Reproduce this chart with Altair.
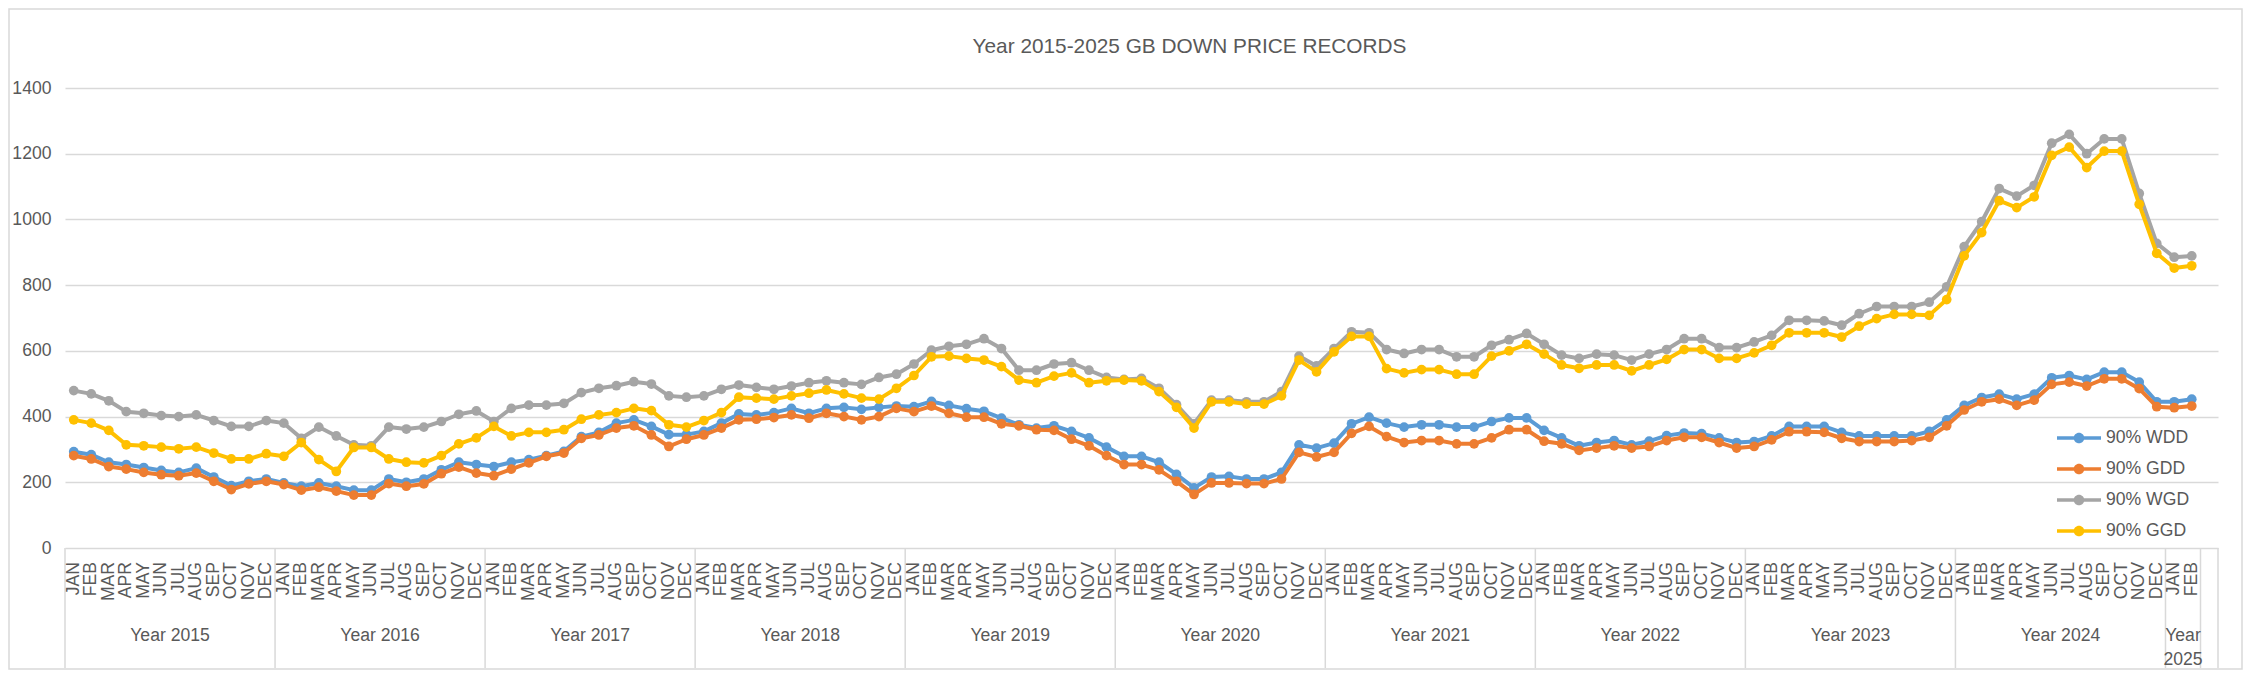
import altair as alt
import pandas as pd

TITLE = "Year 2015-2025 GB DOWN PRICE RECORDS"
MONTHS = ["JAN", "FEB", "MAR", "APR", "MAY", "JUN", "JUL", "AUG", "SEP", "OCT", "NOV", "DEC"]
YEAR_GROUPS = ["Year 2015", "Year 2016", "Year 2017", "Year 2018", "Year 2019", "Year 2020",
               "Year 2021", "Year 2022", "Year 2023", "Year 2024", "Year\n2025"]
MONTHS_PER_GROUP = [12, 12, 12, 12, 12, 12, 12, 12, 12, 12, 2]
BLANK_TRAILING_SLOTS = 1

SERIES = ["90% WDD", "90% GDD", "90% WGD", "90% GGD"]
COLORS = ["#5B9BD5", "#ED7D31", "#A5A5A5", "#FFC000"]

WDD = [293, 284, 261, 254, 245, 236, 230, 243, 216, 190, 203, 210,
       198, 188, 198, 188, 176, 176, 210, 200, 210, 238, 261, 254,
       248, 261, 269, 281, 294, 339, 352, 380, 390, 370, 345, 345,
       355, 380, 408, 405, 412, 425, 410, 425, 428, 422, 428, 432,
       430, 446, 434, 424, 416, 395, 375, 365, 372, 355, 335, 307,
       279, 279, 261, 224, 183, 216, 218, 210, 210, 230, 314, 304,
       319, 378, 398, 380, 368, 375, 375, 368, 368, 385, 396, 396,
       358, 335, 311, 321, 327, 314, 325, 342, 350, 348, 335, 321,
       324, 341, 370, 370, 370, 352, 341, 341, 341, 341, 355, 390,
       434, 458, 468, 453, 468, 518, 525, 513, 535, 535, 505, 445,
       445, 453]
GDD = [281, 271, 248, 240, 230, 223, 220, 228, 203, 178, 195, 203,
       193, 176, 185, 173, 161, 161, 196, 188, 195, 226, 246, 228,
       220, 240, 259, 279, 289, 334, 344, 365, 372, 344, 309, 331,
       344, 365, 390, 392, 397, 405, 395, 410, 400, 390, 400, 425,
       415, 432, 410, 398, 398, 378, 372, 360, 358, 331, 311, 281,
       254, 254, 238, 203, 163, 198, 198, 196, 196, 210, 291, 277,
       291, 349, 370, 339, 321, 327, 327, 317, 317, 335, 360, 360,
       325, 317, 297, 304, 311, 304, 309, 327, 337, 337, 321, 304,
       309, 329, 354, 354, 352, 334, 324, 324, 324, 327, 337, 372,
       420, 445, 453, 434, 450, 498, 505, 493, 515, 515, 485, 430,
       427, 432]
WGD = [479, 469, 448, 415, 410, 403, 400, 405, 388, 370, 370, 388,
       380, 334, 368, 341, 314, 311, 368, 362, 368, 385, 407, 417,
       385, 425, 435, 435, 440, 473, 486, 494, 506, 499, 463, 459,
       463, 483, 496, 489, 483, 493, 503, 509, 503, 498, 519, 529,
       560, 602, 614, 620, 637, 607, 541, 541, 560, 564, 541, 519,
       513, 516, 486, 436, 378, 450, 450, 445, 445, 476, 584, 554,
       607, 658, 655, 604, 592, 604, 604, 582, 582, 617, 634, 653,
       620, 587, 577, 590, 587, 572, 590, 604, 637, 637, 610, 610,
       627, 647, 693, 693, 691, 678, 713, 735, 735, 735, 748, 795,
       917, 993, 1094, 1071, 1104, 1232, 1259, 1200, 1245, 1245, 1079, 927,
       885, 889]
GGD = [390, 380, 358, 314, 311, 307, 302, 307, 289, 271, 271, 287,
       279, 321, 269, 233, 306, 306, 271, 261, 259, 281, 317, 335,
       370, 341, 352, 352, 360, 392, 405, 412, 425, 418, 375, 368,
       388, 412, 459, 456, 453, 463, 471, 481, 469, 456, 453, 486,
       525, 582, 584, 577, 572, 552, 511, 503, 523, 533, 503, 509,
       511, 509, 476, 428, 365, 445, 445, 438, 438, 463, 572, 536,
       597, 644, 644, 546, 533, 543, 543, 529, 529, 584, 600, 620,
       590, 557, 547, 557, 557, 539, 557, 574, 604, 604, 577, 577,
       594, 617, 655, 655, 655, 642, 675, 698, 711, 711, 708, 756,
       889, 960, 1057, 1036, 1069, 1195, 1220, 1158, 1208, 1208, 1046, 897,
       852, 859]

Y_TICKS = [0, 200, 400, 600, 800, 1000, 1200, 1400]

# ---------------------------------------------------------------- styling
FONT = "Liberation Sans, Arial, sans-serif"
TEXT_COLOR = "#595959"
GRID_COLOR = "#D9D9D9"
W, H = 2153, 460
PAD = {"left": 57, "top": 80, "right": 25, "bottom": 122}
LEGEND_SYMBOL = ("M-1,-0.085L1,-0.085L1,0.085L-1,0.085Z "
                 "M-0.24,0A0.24,0.24 0 1,1 0.24,0A0.24,0.24 0 1,1 -0.24,0Z")

# ---------------------------------------------------------------- tables
cat_labels = []
for n in MONTHS_PER_GROUP:
    cat_labels += MONTHS[:n]
cat_labels += [""] * BLANK_TRAILING_SLOTS
n_slots = len(cat_labels)

month_df = pd.DataFrame({"pos": [i + 0.5 for i in range(n_slots)], "label": cat_labels})

bounds = [0]
for n in MONTHS_PER_GROUP:
    bounds.append(bounds[-1] + n)
if BLANK_TRAILING_SLOTS:
    bounds.append(n_slots)
group_df = pd.DataFrame({
    "pos": [(bounds[i] + bounds[i + 1]) / 2 for i in range(len(YEAR_GROUPS))],
    "label": YEAR_GROUPS,
})
sep_df = pd.DataFrame({"pos": bounds})

rows = []
for name, vals in zip(SERIES, [WDD, GDD, WGD, GGD]):
    for i, v in enumerate(vals):
        rows.append({"pos": i + 0.5, "series": name, "value": v})
df = pd.DataFrame(rows)

xscale = alt.Scale(domain=[0, n_slots], nice=False, zero=False)
X = alt.X("pos:Q", scale=xscale, axis=None)
Y = alt.Y("value:Q", scale=alt.Scale(domain=[0, 1400], nice=False),
          axis=alt.Axis(values=Y_TICKS, format="d", grid=True, gridColor=GRID_COLOR,
                        gridWidth=1.5, domain=False, ticks=False, tickSize=0,
                        labelFont=FONT, labelFontSize=17.6, labelColor=TEXT_COLOR,
                        labelPadding=14, title=None))
cscale = alt.Scale(domain=SERIES, range=COLORS)
legend = alt.Legend(orient="none", legendX=1992, legendY=328, title=None,
                    direction="vertical", columns=1,
                    symbolType=LEGEND_SYMBOL, symbolSize=1936, symbolStrokeWidth=0,
                    symbolOpacity=1, labelFont=FONT, labelFontSize=17.6,
                    labelColor=TEXT_COLOR, labelOffset=5, rowPadding=0, padding=0,
                    labelLimit=200)
COLOR = alt.Color("series:N", scale=cscale, sort=SERIES, legend=legend)

border = alt.Chart(pd.DataFrame({"k": [0]})).mark_rect(
    filled=False, stroke=GRID_COLOR, strokeWidth=1.5
).encode(x=alt.value(-56), x2=alt.value(W + 24), y=alt.value(-79), y2=alt.value(H + 121))

month_text = alt.Chart(month_df).mark_text(
    angle=270, align="right", baseline="middle", font=FONT, fontSize=17.6, color=TEXT_COLOR
).encode(x=X, y=alt.value(H + 14), text="label:N")

group_text = alt.Chart(group_df).mark_text(
    align="center", baseline="alphabetic", font=FONT, fontSize=17.6, color=TEXT_COLOR,
    lineBreak="\n", lineHeight=24
).encode(x=X, y=alt.value(H + 93), text="label:N")

seps = alt.Chart(sep_df).mark_rule(color=GRID_COLOR, strokeWidth=1.5).encode(
    x=X, y=alt.value(H), y2=alt.value(H + 120))

layers = [border, seps, month_text, group_text]
for name in SERIES:
    base = alt.Chart(df).transform_filter(alt.datum.series == name)
    pts = base.mark_circle(size=95, opacity=1).encode(x=X, y=Y, color=COLOR)
    line = base.mark_line(strokeWidth=4, strokeJoin="round", strokeCap="round").encode(
        x=X, y=Y, color=COLOR)
    layers += [pts, line]

chart = alt.layer(*layers).properties(
    width=W, height=H,
    title=alt.TitleParams(TITLE, anchor="middle", frame="group", dx=48, offset=-60,
                          baseline="middle", font=FONT, fontSize=20.8,
                          fontWeight="normal", color=TEXT_COLOR),
    autosize=alt.AutoSizeParams(type="none"),
    padding=PAD,
    background="white",
).configure_view(stroke=None)

chart.save("out.html", embed_options={"renderer": "svg", "actions": False})
